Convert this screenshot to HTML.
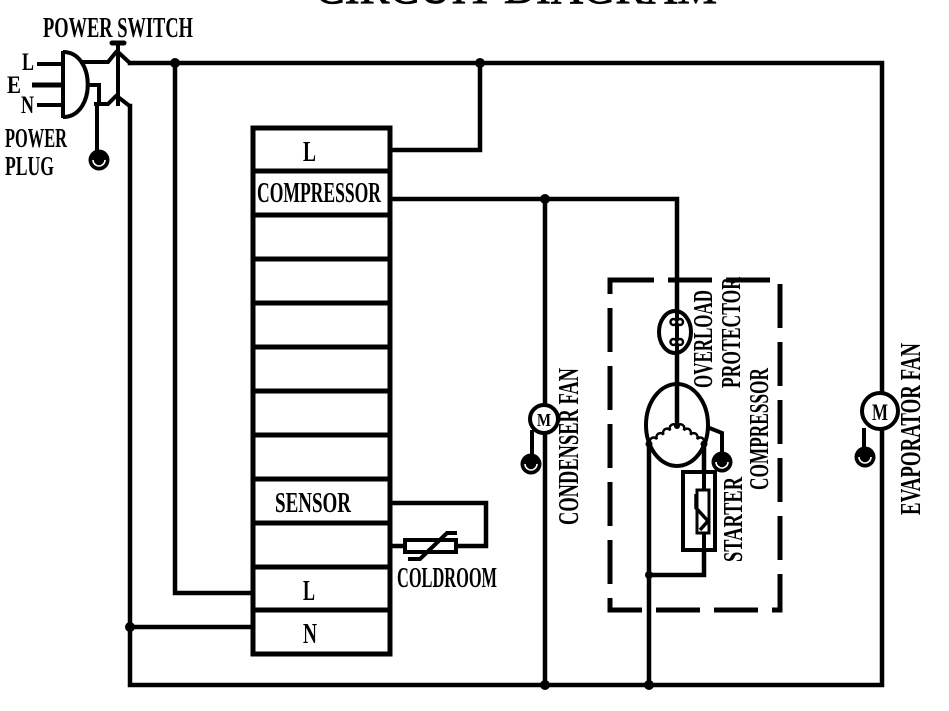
<!DOCTYPE html>
<html>
<head>
<meta charset="utf-8">
<style>
  html, body { margin: 0; padding: 0; background: #fff; }
  body { width: 949px; height: 711px; overflow: hidden; }
  svg { display: block; }
  .t { font-family: "Liberation Serif", "DejaVu Serif", serif; font-weight: bold; fill: #000; }
</style>
</head>
<body>
<svg width="949" height="711" viewBox="0 0 949 711" xmlns="http://www.w3.org/2000/svg">
  <rect width="949" height="711" fill="#fff"/>

  <!-- Title (cut off at top) -->
  <text x="315" y="3" font-family="Liberation Serif, serif" font-size="44" textLength="402" lengthAdjust="spacingAndGlyphs" fill="#000" stroke="#000" stroke-width="0.8">CIRCUIT DIAGRAM</text>

  <g fill="none" stroke="#000" stroke-width="4.5" stroke-linecap="square" stroke-linejoin="miter">
    <path d="M130 63 H882 V685 H130 V106"/>
    <path d="M175 63 V593 H253"/>
    <path d="M480 63 V150 H390"/>
    <path d="M390 199 H677 V311"/>
    <path d="M677 353 V426"/>
    <path d="M545 199 V685"/>
    <path d="M649 444 V685"/>
    <path d="M704 444 V575 H649"/>
    <path d="M130 627 H253"/>
    <path d="M390 503 H486 V546 H456"/>
    <path d="M390 546 H405"/>
  </g>

  <!-- Controller box -->
  <g fill="none" stroke="#000" stroke-width="5">
    <rect x="253" y="128" width="137" height="526"/>
    <path d="M253 171 H390 M253 215 H390 M253 259 H390 M253 303 H390 M253 347 H390 M253 391 H390 M253 435 H390 M253 479 H390 M253 523 H390 M253 567 H390 M253 610 H390"/>
  </g>

  <!-- Thermistor (coldroom sensor) -->
  <g fill="none" stroke="#000" stroke-width="4">
    <rect x="405" y="540" width="51" height="12" fill="#fff"/>
    <path d="M408 559 H420 L447 533 H457"/>
  </g>

  <!-- Junction dots -->
  <g fill="#000">
    <circle cx="175" cy="63" r="5"/>
    <circle cx="480" cy="63" r="5"/>
    <circle cx="545" cy="199" r="5"/>
    <circle cx="130" cy="627" r="5"/>
    <circle cx="545" cy="685" r="5"/>
    <circle cx="649" cy="685" r="5"/>
    <circle cx="649" cy="575" r="4"/>
  </g>

  <!-- Power plug -->
  <g fill="none" stroke="#000" stroke-width="4">
    <path d="M37 64 H63"/>
    <path d="M32 85 H63" stroke-width="5"/>
    <path d="M37 105 H63"/>
    <path d="M63 51 V118"/>
    <path d="M63 52 C96 52 96 117 63 117"/>
    <path d="M80 62 H108 L117 51"/>
    <path d="M87 85 H99 V104"/>
    <path d="M94 104 H108 L117 95"/>
    <path d="M97 104 V152"/>
    <path d="M118 44 V106"/>
    <path d="M118 52 L131 64"/>
    <path d="M118 97 L131 107"/>
  </g>
  <path d="M112 43 H124" stroke="#000" stroke-width="5" stroke-linecap="round"/>

  <!-- Ground symbols -->
  <g>
    <circle cx="99" cy="160" r="10.5" fill="#000"/>
    <path d="M93 160 A6 6 0 0 0 105 160" fill="none" stroke="#fff" stroke-width="1.6"/>
    <circle cx="531" cy="464" r="10.5" fill="#000"/>
    <path d="M525 464 A6 6 0 0 0 537 464" fill="none" stroke="#fff" stroke-width="1.6"/>
    <circle cx="865" cy="457" r="10.5" fill="#000"/>
    <path d="M859 457 A6 6 0 0 0 871 457" fill="none" stroke="#fff" stroke-width="1.6"/>
    <circle cx="722" cy="462" r="10.5" fill="#000"/>
    <path d="M716 462 A6 6 0 0 0 728 462" fill="none" stroke="#fff" stroke-width="1.6"/>
  </g>

  <!-- Condenser fan motor -->
  <g stroke="#000" stroke-width="4">
    <path d="M532 430 V455" fill="none"/>
    <circle cx="544" cy="419" r="14" fill="#fff"/>
  </g>
  <text class="t" x="537" y="426" font-size="18" textLength="14" lengthAdjust="spacingAndGlyphs">M</text>

  <!-- Evaporator fan motor -->
  <g stroke="#000" stroke-width="4">
    <path d="M864 428 V448" fill="none"/>
    <circle cx="880" cy="411" r="18" fill="#fff"/>
  </g>
  <text class="t" x="872" y="420" font-size="23" textLength="16" lengthAdjust="spacingAndGlyphs">M</text>

  <!-- Compressor dashed enclosure -->
  <rect x="610" y="280" width="170" height="330" fill="none" stroke="#000" stroke-width="5" stroke-dasharray="44 14"/>

  <!-- Overload protector -->
  <g stroke="#000">
    <ellipse cx="675" cy="332" rx="16" ry="21" fill="#fff" stroke-width="4"/>
    <path d="M677 311 V353" stroke-width="4" fill="none"/>
    <circle cx="673.5" cy="322" r="3" fill="#fff" stroke-width="2.5"/>
    <circle cx="680" cy="322" r="3" fill="#fff" stroke-width="2.5"/>
    <circle cx="673.5" cy="342" r="3" fill="#fff" stroke-width="2.5"/>
    <circle cx="680" cy="342" r="3" fill="#fff" stroke-width="2.5"/>
  </g>

  <!-- Compressor motor -->
  <g fill="none" stroke="#000" stroke-width="4">
    <ellipse cx="677" cy="425" rx="31" ry="41"/>
    <path d="M677 384 V426"/>
    <path d="M707 427 L722 433 V452"/>
  </g>
  <g fill="none" stroke="#000" stroke-width="2.5">
    <g transform="translate(677,426) rotate(33.7)">
      <path d="M0 0 a4 4 0 0 1 8 0 a4 4 0 0 1 8 0 a4 4 0 0 1 8 0 a4 4 0 0 1 8 0"/>
    </g>
    <g transform="translate(677,426) rotate(146.3)">
      <path d="M0 0 a4 4 0 0 0 8 0 a4 4 0 0 0 8 0 a4 4 0 0 0 8 0 a4 4 0 0 0 8 0"/>
    </g>
  </g>
  <g fill="#000">
    <circle cx="677" cy="426" r="3"/>
    <circle cx="649" cy="444" r="3.5"/>
    <circle cx="704" cy="444" r="3.5"/>
    <circle cx="677" cy="384" r="3"/>
  </g>

  <!-- Starter -->
  <g fill="none" stroke="#000">
    <rect x="683" y="472" width="32" height="78" stroke-width="4" fill="#fff"/>
    <path d="M704 472 V550" stroke-width="4"/>
    <rect x="697" y="490" width="12" height="43" stroke-width="3" fill="#fff"/>
    <path d="M696 494 V508 L708 521 L700 530" stroke-width="3.5"/>
  </g>

  <!-- Labels -->
  <text class="t" x="43" y="37" font-size="29" textLength="150" lengthAdjust="spacingAndGlyphs">POWER SWITCH</text>
  <text class="t" x="22" y="70" font-size="25" textLength="12" lengthAdjust="spacingAndGlyphs">L</text>
  <text class="t" x="7" y="93" font-size="25" textLength="14" lengthAdjust="spacingAndGlyphs">E</text>
  <text class="t" x="21" y="113" font-size="25" textLength="13" lengthAdjust="spacingAndGlyphs">N</text>
  <text class="t" x="5" y="147" font-size="27" textLength="62" lengthAdjust="spacingAndGlyphs">POWER</text>
  <text class="t" x="5" y="175" font-size="27" textLength="49" lengthAdjust="spacingAndGlyphs">PLUG</text>

  <text class="t" x="303" y="161" font-size="28" textLength="13" lengthAdjust="spacingAndGlyphs">L</text>
  <text class="t" x="257" y="202" font-size="29" textLength="124" lengthAdjust="spacingAndGlyphs">COMPRESSOR</text>
  <text class="t" x="275" y="512" font-size="29" textLength="76" lengthAdjust="spacingAndGlyphs">SENSOR</text>
  <text class="t" x="303" y="600" font-size="28" textLength="12" lengthAdjust="spacingAndGlyphs">L</text>
  <text class="t" x="303" y="643" font-size="28" textLength="14" lengthAdjust="spacingAndGlyphs">N</text>
  <text class="t" x="397" y="587" font-size="29" textLength="100" lengthAdjust="spacingAndGlyphs">COLDROOM</text>

  <!-- Rotated labels -->
  <text class="t" transform="translate(578,525) rotate(-90)" font-size="28" textLength="157" lengthAdjust="spacingAndGlyphs">CONDENSER FAN</text>
  <text class="t" transform="translate(920,515) rotate(-90)" font-size="28" textLength="172" lengthAdjust="spacingAndGlyphs">EVAPORATOR FAN</text>
  <text class="t" transform="translate(712,388) rotate(-90)" font-size="27" textLength="98" lengthAdjust="spacingAndGlyphs">OVERLOAD</text>
  <text class="t" transform="translate(740,388) rotate(-90)" font-size="27" textLength="111" lengthAdjust="spacingAndGlyphs">PROTECTOR</text>
  <text class="t" transform="translate(768,490) rotate(-90)" font-size="27" textLength="122" lengthAdjust="spacingAndGlyphs">COMPRESSOR</text>
  <text class="t" transform="translate(742,562) rotate(-90)" font-size="27" textLength="85" lengthAdjust="spacingAndGlyphs">STARTER</text>
</svg>
</body>
</html>
